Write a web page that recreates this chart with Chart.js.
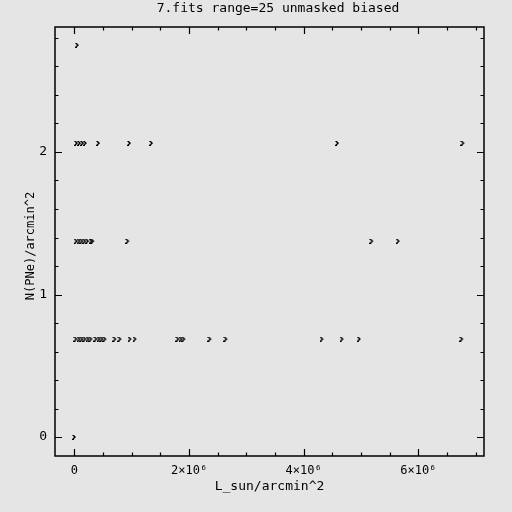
<!DOCTYPE html>
<html><head><meta charset="utf-8">
<script src="https://cdn.jsdelivr.net/npm/chart.js@4"></script>
<style>html,body{margin:0;padding:0;background:#e5e5e5;}canvas{display:block;}</style>
</head><body>
<canvas id="c" width="512" height="512"></canvas>
<script>
// Data (x in L_sun/arcmin^2, y in N(PNe)/arcmin^2)
const row0X = [0];
const row0Y = 0;
const row1X = [26000,79000,131000,183000,236000,288000,375000,428000,480000,532000,707000,794000,969000,1057000,1806000,1859000,1910000,2365000,2644000,4320000,4670000,4970000,6760000];
const row1Y = 0.6875;
const row2X = [30000,80000,130000,180000,230000,290000,320000,930000,5190000,5650000];
const row2Y = 1.375;
const row3X = [35000,87000,140000,190000,420000,960000,1345000,4590000,6780000];
const row3Y = 2.0625;
const row4X = [50000];
const row4Y = 2.75;

const xMajor = [0,2000000,4000000,6000000];
const xTickLabels = ['0','2×10⁶','4×10⁶','6×10⁶'];
const yMajor = [0,1,2];
const yTickLabels = ['0','1','2'];
const xMinorStep = 500000;
const yMinorStep = 0.2;

const titleText = '7.fits range=25 unmasked biased';
const xTitle = 'L_sun/arcmin^2';
const yTitle = 'N(PNe)/arcmin^2';

const pts = [];
[[row0X,row0Y],[row1X,row1Y],[row2X,row2Y],[row3X,row3Y],[row4X,row4Y]].forEach(([xs,y])=>xs.forEach(x=>pts.push({x:x,y:y})));

// chevron marker (pixel style)
const mk = document.createElement('canvas');
mk.width = 5; mk.height = 5;
const mc = mk.getContext('2d');
mc.fillStyle = '#000';
mc.fillRect(0,0,2,1); mc.fillRect(1,1,2,1); mc.fillRect(2,2,2,1); mc.fillRect(1,3,2,1); mc.fillRect(0,4,2,1);

const FONT = '"DejaVu Sans Mono", monospace';

const framePlugin = {
  id:'frame',
  beforeDraw(chart){
    const ctx = chart.ctx;
    ctx.save(); ctx.fillStyle='#e5e5e5'; ctx.fillRect(0,0,chart.width,chart.height); ctx.restore();
  },
  afterDraw(chart){
    const ctx = chart.ctx, a = chart.chartArea;
    const xs = chart.scales.x, ys = chart.scales.y;
    ctx.save();
    ctx.strokeStyle='#000'; ctx.lineWidth=1.5;
    ctx.strokeRect(a.left, a.top, a.right-a.left, a.bottom-a.top);
    ctx.lineWidth=1.2;
    ctx.beginPath();
    for (let v = Math.ceil(xs.min/xMinorStep)*xMinorStep; v <= xs.max; v += xMinorStep) {
      const px = Math.round(xs.getPixelForValue(v))+0.5;
      const major = Math.abs(v % 2000000) < 1;
      const L = major ? 7 : 3.5;
      ctx.moveTo(px, a.bottom); ctx.lineTo(px, a.bottom-L);
      ctx.moveTo(px, a.top); ctx.lineTo(px, a.top+L);
    }
    for (let i = Math.ceil(ys.min/yMinorStep); i*yMinorStep <= ys.max; i++) {
      const v = i*yMinorStep;
      const py = Math.round(ys.getPixelForValue(v))+0.5;
      const major = (i % 5) === 0;
      const L = major ? 7 : 3.5;
      ctx.moveTo(a.left, py); ctx.lineTo(a.left+L, py);
      ctx.moveTo(a.right, py); ctx.lineTo(a.right-L, py);
    }
    ctx.stroke();
    ctx.fillStyle='#000';
    ctx.font = '13px ' + FONT;
    ctx.textAlign='center'; ctx.textBaseline='middle';
    ctx.fillText(titleText, 278, 9);
    ctx.fillText(xTitle, (a.left+a.right)/2, 487);
    ctx.font = '12px ' + FONT;
    ctx.translate(31, 246);
    ctx.rotate(-Math.PI/2);
    ctx.fillText(yTitle, 0, 0);
    ctx.restore();
  }
};

new Chart(document.getElementById('c'), {
  type:'scatter',
  data:{datasets:[{data:pts, pointStyle:mk, pointRadius:3, borderColor:'#000', backgroundColor:'#000'}]},
  options:{
    responsive:false, animation:false, devicePixelRatio:1,
    layout:{padding:{left:0, top:27, right:28, bottom:0}},
    plugins:{legend:{display:false}, tooltip:{enabled:false}},
    scales:{
      x:{type:'linear', min:-340000, max:7147000,
         grid:{display:false}, border:{display:false},
         afterBuildTicks(s){ s.ticks = xMajor.map(v=>({value:v})); },
         afterFit(s){ s.height = 56; },
         ticks:{color:'#000', font:{family:FONT, size:12}, padding:0, maxRotation:0, autoSkip:false,
           callback(v){ const i = xMajor.indexOf(v); return i>=0 ? xTickLabels[i] : ''; }}},
      y:{type:'linear', min:-0.133, max:2.877,
         grid:{display:false}, border:{display:false},
         afterBuildTicks(s){ s.ticks = yMajor.map(v=>({value:v})); },
         afterFit(s){ s.width = 55; },
         ticks:{color:'#000', font:{family:FONT, size:13}, padding:0, autoSkip:false,
           callback(v){ const i = yMajor.indexOf(v); return i>=0 ? yTickLabels[i] : ''; }}}
    }
  },
  plugins:[framePlugin]
});
</script>
</body></html>
